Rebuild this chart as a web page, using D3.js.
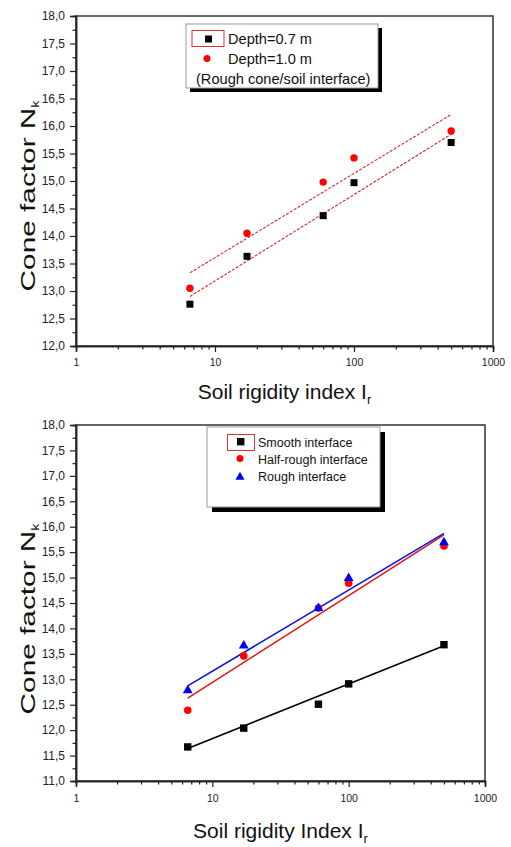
<!DOCTYPE html>
<html><head><meta charset="utf-8">
<script src="https://cdn.jsdelivr.net/npm/d3@7"></script>
<style>
html,body{margin:0;padding:0;background:#fff;}
svg{display:block;font-family:"Liberation Sans",Arial,sans-serif;}
</style></head>
<body>
<svg id="chart" width="511" height="847"></svg>
<script>
// ---------- data ----------
const rigidityIndex = [6.6, 17, 60, 100, 500];
// top panel (rough cone/soil interface)
const depth07 = [12.76, 13.63, 14.37, 14.97, 15.70];
const depth10 = [13.05, 14.05, 14.98, 15.42, 15.91];
const fitX = [6.6, 500];
const fitDepth07 = [12.90, 15.85];
const fitDepth10 = [13.33, 16.21];
// bottom panel
const smoothIf = [11.67, 12.04, 12.51, 12.91, 13.68];
const halfRoughIf = [12.39, 13.46, 14.40, 14.89, 15.62];
const roughIf = [12.78, 13.66, 14.40, 14.99, 15.69];
const fitSmooth = [11.64, 13.66];
const fitHalfRough = [12.63, 15.84];
const fitRough = [12.87, 15.87];
// ticks
const xMajorTicks = [1, 10, 100, 1000];
const xMinorTicks = [2,3,4,5,6,7,8,9,20,30,40,50,60,70,80,90,200,300,400,500,600,700,800,900];
const topYTicks = [12, 12.5, 13, 13.5, 14, 14.5, 15, 15.5, 16, 16.5, 17, 17.5, 18];
const botYTicks = [11, 11.5, 12, 12.5, 13, 13.5, 14, 14.5, 15, 15.5, 16, 16.5, 17, 17.5, 18];
const topLegend = ["Depth=0.7 m", "Depth=1.0 m", "(Rough cone/soil interface)"];
const botLegend = ["Smooth interface", "Half-rough interface", "Rough interface"];

const svg = d3.select("#chart");
const fmtY = d => d.toFixed(1).replace(".", ",");
const AX = "#222";

function panel(o) {
  const x = d3.scaleLog().domain([1, 1000]).range([o.x0, o.x1]);
  const y = d3.scaleLinear().domain(o.yDomain).range([o.y1, o.y0]);
  const g = svg.append("g");
  // frame
  g.append("rect").attr("x", o.x0).attr("y", o.y0).attr("width", o.x1 - o.x0).attr("height", o.y1 - o.y0)
    .attr("fill", "none").attr("stroke", "#333").attr("stroke-width", 1.5);
  // x axis
  const xa = g.append("g").attr("transform", `translate(0,${o.y1})`)
    .call(d3.axisBottom(x).tickValues(xMajorTicks).tickFormat(d3.format("d")).tickSize(6).tickPadding(o.xPad));
  const xm = g.append("g").attr("transform", `translate(0,${o.y1})`)
    .call(d3.axisBottom(x).tickValues(xMinorTicks).tickFormat("").tickSize(3.5));
  // y axis
  const ya = g.append("g").attr("transform", `translate(${o.x0},0)`)
    .call(d3.axisLeft(y).tickValues(o.yTicks).tickFormat(fmtY).tickSize(6).tickPadding(5));
  const ymin = o.yTicks.slice(0, -1).map(v => v + 0.25);
  const ym = g.append("g").attr("transform", `translate(${o.x0},0)`)
    .call(d3.axisLeft(y).tickValues(ymin).tickFormat("").tickSize(3.5));
  [xa, xm, ya, ym].forEach(a => {
    a.select(".domain").attr("stroke", AX).attr("stroke-width", 1.5);
    a.selectAll(".tick line").attr("stroke", AX).attr("stroke-width", 1.2);
  });
  xa.selectAll("text").attr("font-size", 10.5).attr("fill", AX);
  ya.selectAll("text").attr("font-size", 12).attr("fill", AX);
  // x title
  const xt = g.append("text").attr("x", (o.x0 + o.x1) / 2).attr("y", o.xTitleY)
    .attr("text-anchor", "middle").attr("font-size", 21).attr("fill", "#111");
  xt.append("tspan").text(o.xTitle + " I");
  xt.append("tspan").text("r").attr("font-size", 13).attr("dy", 5);
  // y title
  const yt = g.append("g").attr("transform", `translate(35,${o.yTitleY}) rotate(-90) scale(1.42,1)`)
    .append("text").attr("text-anchor", "middle").attr("font-size", 21).attr("fill", "#111");
  yt.append("tspan").text("Cone factor N");
  yt.append("tspan").text("k").attr("font-size", 10).attr("dy", 4);
  return {g, x, y};
}

// ---------- top panel ----------
const T = panel({x0: 76, x1: 493, y0: 16, y1: 346, yDomain: [12, 18], yTicks: topYTicks,
  xPad: 7, xTitleY: 399, xTitle: "Soil rigidity index", yTitleY: 196});
const lineT = d3.line().x((d, i) => T.x(fitX[i])).y(d => T.y(d));
[fitDepth07, fitDepth10].forEach(f => {
  T.g.append("path").attr("d", lineT(f)).attr("fill", "none")
    .attr("stroke", "#d42a2a").attr("stroke-width", 1.1).attr("stroke-dasharray", "3,1.5");
});
T.g.selectAll(".sq").data(depth07).join("rect")
  .attr("x", (d, i) => T.x(rigidityIndex[i]) - 3.5).attr("y", d => T.y(d) - 3.5)
  .attr("width", 7).attr("height", 7).attr("fill", "#000");
T.g.selectAll(".ci").data(depth10).join("circle")
  .attr("cx", (d, i) => T.x(rigidityIndex[i])).attr("cy", d => T.y(d)).attr("r", 3.7).attr("fill", "#f00");

// top legend
const tl = T.g.append("g");
tl.append("rect").attr("x", 190).attr("y", 28).attr("width", 192).attr("height", 64).attr("fill", "#000");
tl.append("rect").attr("x", 186).attr("y", 24).attr("width", 192).attr("height", 64)
  .attr("fill", "#fff").attr("stroke", "#999").attr("stroke-width", 1);
tl.append("rect").attr("x", 192).attr("y", 30.5).attr("width", 32).attr("height", 16)
  .attr("fill", "none").attr("stroke", "#e03030").attr("stroke-width", 1);
tl.append("rect").attr("x", 205).attr("y", 35.5).attr("width", 7).attr("height", 7).attr("fill", "#000");
tl.append("circle").attr("cx", 207).attr("cy", 58.5).attr("r", 3.5).attr("fill", "#f00");
tl.selectAll(".lt").data(topLegend).join("text")
  .attr("x", (d, i) => i < 2 ? 228 : 196).attr("y", (d, i) => [44, 64, 84][i])
  .attr("font-size", 14.6).attr("fill", "#111").text(d => d);

// ---------- bottom panel ----------
const B = panel({x0: 76, x1: 485, y0: 425, y1: 781, yDomain: [11, 18], yTicks: botYTicks,
  xPad: 8, xTitleY: 838, xTitle: "Soil rigidity Index", yTitleY: 619});
const lineB = d3.line().x((d, i) => B.x(fitX[i])).y(d => B.y(d));
[[fitSmooth, "#000"], [fitHalfRough, "#e01818"], [fitRough, "#1010e0"]].forEach(([f, c]) => {
  B.g.append("path").attr("d", lineB(f)).attr("fill", "none").attr("stroke", c).attr("stroke-width", 1.6);
});
B.g.selectAll(".sq").data(smoothIf).join("rect")
  .attr("x", (d, i) => B.x(rigidityIndex[i]) - 3.7).attr("y", d => B.y(d) - 3.7)
  .attr("width", 7.4).attr("height", 7.4).attr("fill", "#000");
B.g.selectAll(".ci").data(halfRoughIf).join("circle")
  .attr("cx", (d, i) => B.x(rigidityIndex[i])).attr("cy", d => B.y(d)).attr("r", 3.8).attr("fill", "#f00");
const tri = d3.symbol().type(d3.symbolTriangle).size(42);
B.g.selectAll(".tr").data(roughIf).join("path")
  .attr("d", tri).attr("transform", (d, i) => `translate(${B.x(rigidityIndex[i])},${B.y(d)})`)
  .attr("fill", "#00f");

// bottom legend
const bl = B.g.append("g");
bl.append("rect").attr("x", 212).attr("y", 432).attr("width", 173).attr("height", 80).attr("fill", "#000");
bl.append("rect").attr("x", 207).attr("y", 427).attr("width", 173).attr("height", 80)
  .attr("fill", "#fff").attr("stroke", "#999").attr("stroke-width", 1);
bl.append("rect").attr("x", 227.5).attr("y", 434.5).attr("width", 27).attr("height", 16)
  .attr("fill", "none").attr("stroke", "#e03030").attr("stroke-width", 1);
bl.append("rect").attr("x", 237).attr("y", 438).attr("width", 7.4).attr("height", 7.4).attr("fill", "#000");
bl.append("circle").attr("cx", 240).attr("cy", 458.5).attr("r", 3.5).attr("fill", "#f00");
bl.append("path").attr("d", d3.symbol().type(d3.symbolTriangle).size(36)).attr("transform", "translate(240,477)").attr("fill", "#00f");
bl.selectAll(".lt").data(botLegend).join("text")
  .attr("x", 258).attr("y", (d, i) => [446.5, 463.5, 481][i])
  .attr("font-size", 12.5).attr("fill", "#111").text(d => d);
</script>
</body></html>
